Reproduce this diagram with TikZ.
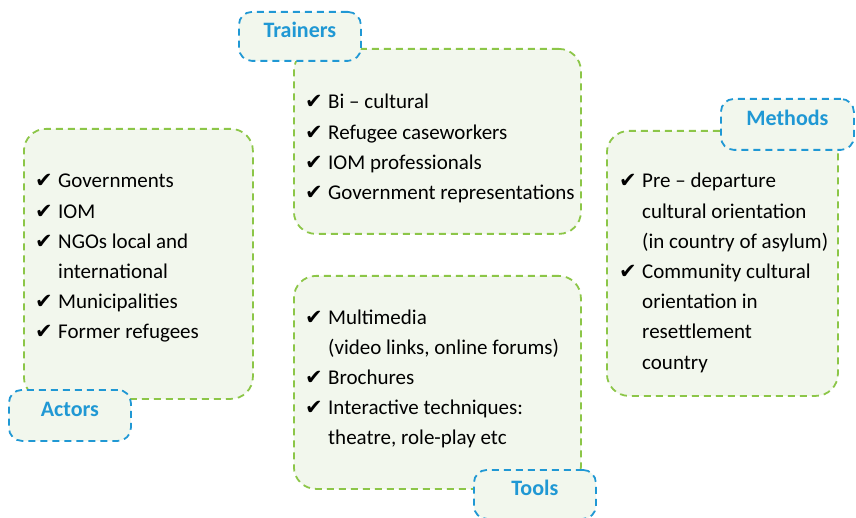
\documentclass[tikz,border=0pt]{standalone}
\usepackage{fontspec}
\setmainfont{Carlito}
\newfontfamily\symfont{DejaVu Sans}
\usepackage{tikz}
\usetikzlibrary{positioning}
\definecolor{groupgreen}{RGB}{140,198,72}
\definecolor{groupfill}{RGB}{242,247,237}
\definecolor{tagblue}{RGB}{32,152,212}
\tikzstyle{group} = [rectangle, draw=groupgreen, fill=groupfill, line width=1.8pt,
    dash pattern=on 7pt off 5pt, rounded corners=22pt, anchor=north west, inner sep=0pt]
\tikzstyle{tag} = [rectangle, draw=tagblue, fill=groupfill, line width=1.8pt,
    dash pattern=on 7pt off 5pt, rounded corners=13pt, anchor=north west, inner sep=0pt,
    text height=15pt, text depth=12pt,
    text=tagblue, font=\fontsize{22}{26}\selectfont\bfseries]
\tikzstyle{items} = [anchor=base west, inner sep=0pt, align=left,
    font=\fontsize{21}{30.2}\selectfont]
\newcommand{\tick}{\makebox[18pt][l]{\fontsize{21}{21}\symfont ✔}}
\newenvironment{ticklist}{\begin{tabular}[t]{@{}l@{\hspace{5pt}}l@{}}}{\end{tabular}}

\begin{document}
\begin{tikzpicture}[x=1pt, y=-1pt]
    \useasboundingbox (0,0) rectangle (856,518);
    % Groups
    \node [group, minimum width=229pt, minimum height=270pt] (actorsbox) at (23,128) {};
    \node [group, minimum width=287pt, minimum height=185pt] (trainersbox) at (293,48) {};
    \node [group, minimum width=287pt, minimum height=213pt] (toolsbox) at (293,275) {};
    \node [group, minimum width=231pt, minimum height=265pt] (methodsbox) at (606,130) {};
    % Tags
    \node [tag, minimum width=122pt, minimum height=51pt] (actors) at (8,389) {Actors};
    \node [tag, minimum width=122pt, minimum height=49pt] (trainers) at (238,11) {Trainers};
    \node [tag, minimum width=122pt, minimum height=49pt] (tools) at (473,469) {Tools};
    \node [tag, minimum width=133pt, minimum height=51pt] (methods) at (720,98) {Methods};
    % Lists
    \node [items] (actorslist) at (35,188) {\begin{ticklist}
        \tick & Governments\\
        \tick & IOM\\
        \tick & NGOs local and\\
              & international\\
        \tick & Municipalities\\
        \tick & Former refugees
    \end{ticklist}};
    \node [items] (trainerslist) at (305,109) {\begin{ticklist}
        \tick & Bi -- cultural\\
        \tick & Refugee caseworkers\\
        \tick & IOM professionals\\
        \tick & Government representations
    \end{ticklist}};
    \node [items] (toolslist) at (305,324) {\begin{ticklist}
        \tick & Multimedia\\
              & (video links, online forums)\\
        \tick & Brochures\\
        \tick & Interactive techniques:\\
              & theatre, role-play etc
    \end{ticklist}};
    \node [items] (methodslist) at (619,188) {\begin{ticklist}
        \tick & Pre -- departure\\
              & cultural orientation\\
              & (in country of asylum)\\
        \tick & Community cultural\\
              & orientation in\\
              & resettlement\\
              & country
    \end{ticklist}};
\end{tikzpicture}
\end{document}
